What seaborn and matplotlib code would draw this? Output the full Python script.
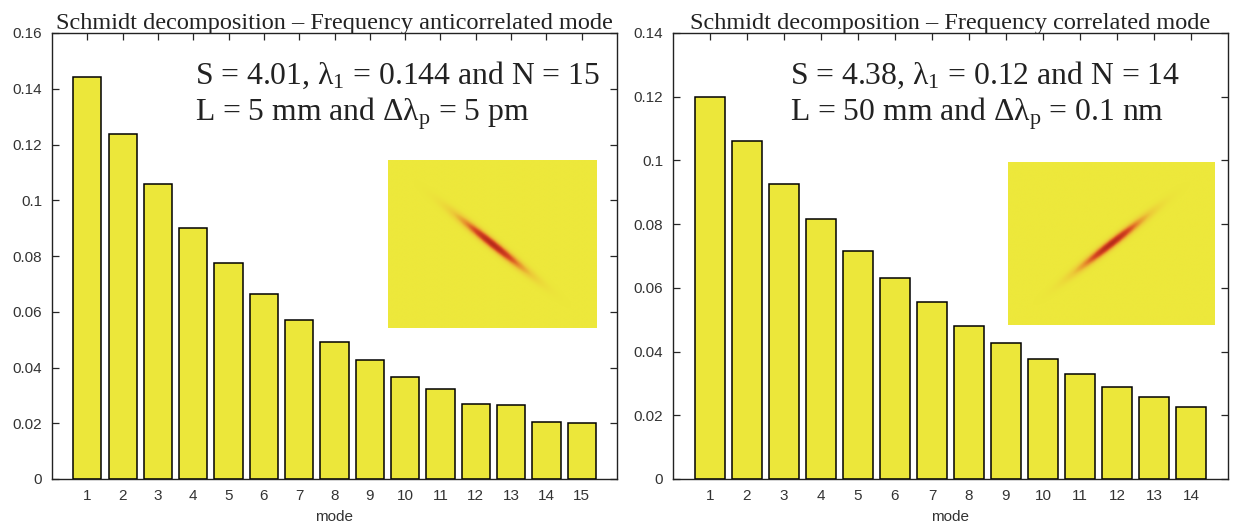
import numpy as np
import pandas as pd
import matplotlib
matplotlib.use("Agg")
import matplotlib.pyplot as plt
import seaborn as sns
from matplotlib.colors import LinearSegmentedColormap

# ---------------- data ----------------
modes_anti = list(range(1, 16))
lambda_anti = [0.1443, 0.1238, 0.1059, 0.0900, 0.0775, 0.0663, 0.0570, 0.0493,
               0.0426, 0.0365, 0.0323, 0.0270, 0.0264, 0.0206, 0.0201]
modes_corr = list(range(1, 15))
lambda_corr = [0.1198, 0.1060, 0.0926, 0.0815, 0.0717, 0.0630, 0.0555, 0.0481,
               0.0428, 0.0376, 0.0331, 0.0290, 0.0256, 0.0225]

title_anti = "Schmidt decomposition \u2013 Frequency anticorrelated mode"
title_corr = "Schmidt decomposition \u2013 Frequency correlated mode"
note_anti = ["S = 4.01, $\\mathregular{λ_1}$ = 0.144 and N = 15",
             "L = 5 mm and $\\mathregular{Δλ_p}$ = 5 pm"]
note_corr = ["S = 4.38, $\\mathregular{λ_1}$ = 0.12 and N = 14",
             "L = 50 mm and $\\mathregular{Δλ_p}$ = 0.1 nm"]
yticks_anti = [0, 0.02, 0.04, 0.06, 0.08, 0.1, 0.12, 0.14, 0.16]
yticks_corr = [0, 0.02, 0.04, 0.06, 0.08, 0.1, 0.12, 0.14]

# joint spectral amplitude inset parameters (+1 correlated, -1 anticorrelated)
jsa_orientation_anti = -1
jsa_orientation_corr = 1
jsa_width = 0.05
jsa_length = 0.45

# ---------------- style ----------------
sns.set_style("ticks")
plt.rcParams["font.family"] = ["Liberation Sans", "DejaVu Sans"]
plt.rcParams["mathtext.fontset"] = "stix"

BAR_COLOR = "#ECE73A"
TICK_COLOR = "#333333"
SERIF = ["Liberation Serif", "DejaVu Serif"]

W, H = 1238, 524
fig = plt.figure(figsize=(W / 100, H / 100), dpi=100)
fig.patch.set_facecolor("white")


def fig_rect(x0, y0, x1, y1):
    return [x0 / W, 1 - y1 / H, (x1 - x0) / W, (y1 - y0) / H]


cmap = LinearSegmentedColormap.from_list(
    "jsa", ["#EDE83B", "#ECCB38", "#E8952E", "#D84A22", "#B82A1A"])


def jsa_image(orientation, n=240):
    u = np.linspace(-1, 1, n)
    X, Y = np.meshgrid(u, u)
    along = (X + orientation * Y) / np.sqrt(2)
    across = (X - orientation * Y) / np.sqrt(2)
    return np.exp(-(across / jsa_width) ** 2) * np.exp(-(along / jsa_length) ** 2)


def panel(rect, modes, vals, yticks, title, notes, note_x, inset_rect, orient):
    ax = fig.add_axes(rect)
    df = pd.DataFrame({"mode": modes, "lambda": vals})
    sns.barplot(data=df, x="mode", y="lambda", ax=ax, color=BAR_COLOR,
                saturation=1, edgecolor="black", linewidth=1.1, width=0.8)
    n = len(modes)
    ax.set_xlim(-1, n)
    ax.set_ylim(0, yticks[-1])
    ax.set_yticks(yticks)
    ax.set_yticklabels([f"{t:g}" for t in yticks])
    ax.tick_params(direction="in", top=True, right=True, length=5, width=0.9,
                   labelsize=11, labelcolor=TICK_COLOR, pad=7)
    for s in ax.spines.values():
        s.set_visible(True)
        s.set_linewidth(1.0)
        s.set_color("#222222")
    ax.set_xlabel("mode", fontsize=11, color=TICK_COLOR, labelpad=5)
    ax.set_ylabel("")
    ax.set_title(title, fontsize=17.5, family=SERIF, pad=3, color="#222222")
    ax.text(note_x, 0.905, notes[0], transform=ax.transAxes, fontsize=22.8,
            family=SERIF, va="center", ha="left", color="#222222")
    ax.text(note_x, 0.82, notes[1], transform=ax.transAxes, fontsize=22.8,
            family=SERIF, va="center", ha="left", color="#222222")
    ins = fig.add_axes(inset_rect)
    ins.imshow(jsa_image(orient), cmap=cmap, origin="lower", aspect="auto",
               interpolation="bilinear")
    ins.set_axis_off()
    return ax


panel(fig_rect(52, 33, 617, 479), modes_anti, lambda_anti, yticks_anti,
      title_anti, note_anti, 0.253, fig_rect(388, 160, 597, 328),
      jsa_orientation_anti)
panel(fig_rect(673, 33, 1228, 479), modes_corr, lambda_corr, yticks_corr,
      title_corr, note_corr, 0.211, fig_rect(1008, 162, 1215, 325),
      jsa_orientation_corr)

fig.savefig("out.png", dpi=100, facecolor="white")
